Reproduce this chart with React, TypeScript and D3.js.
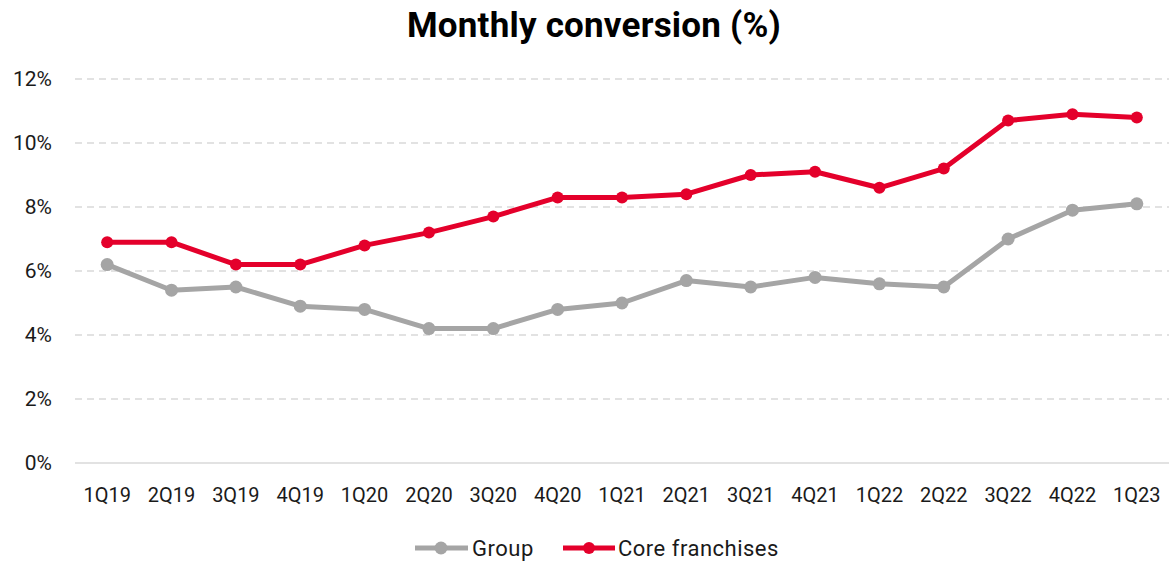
import React from "react";
import * as d3 from "d3";

const categories = ["1Q19","2Q19","3Q19","4Q19","1Q20","2Q20","3Q20","4Q20","1Q21","2Q21","3Q21","4Q21","1Q22","2Q22","3Q22","4Q22","1Q23"];
const groupValues = [6.2,5.4,5.5,4.9,4.8,4.2,4.2,4.8,5.0,5.7,5.5,5.8,5.6,5.5,7.0,7.9,8.1];
const coreValues = [6.9,6.9,6.2,6.2,6.8,7.2,7.7,8.3,8.3,8.4,9.0,9.1,8.6,9.2,10.7,10.9,10.8];
const yTicks = [0,2,4,6,8,10,12];
const seriesNames = ["Group","Core franchises"];

const W = 1171, H = 562;
const FONT = "Roboto, 'Noto Sans', sans-serif";

export default function App() {
  const x = d3.scaleBand<string>().domain(categories).range([75, 1169]);
  const y = d3.scaleLinear().domain([0, 12]).range([463, 79]);
  const cx = (c: string) => (x(c) as number) + x.bandwidth() / 2;
  const line = d3.line<[string, number]>().x(d => cx(d[0])).y(d => y(d[1]));
  const series = [
    { name: seriesNames[0], values: groupValues, color: "#A5A5A5", r: 6.5 },
    { name: seriesNames[1], values: coreValues, color: "#E4002B", r: 6 },
  ];
  return (
    <svg width={W} height={H} style={{ position: "absolute", left: 0, top: 0 }} fontFamily={FONT}>
      <text x={594} y={37} textAnchor="middle" fontSize={35} fontWeight="bold" fill="#000" letterSpacing={0.2}>Monthly conversion (%)</text>
      {yTicks.map(t => (
        <g key={t}>
          <line x1={75} x2={1169} y1={y(t)} y2={y(t)} stroke="#D9D9D9" strokeWidth={1.5} strokeDasharray={t === 0 ? undefined : "7,5"} />
          <text x={52} y={y(t)} dy="0.35em" textAnchor="end" fontSize={21} fill="#1a1a1a">{t}%</text>
        </g>
      ))}
      {categories.map(c => (
        <text key={c} x={cx(c)} y={502} textAnchor="middle" fontSize={20} fill="#1a1a1a">{c}</text>
      ))}
      {series.map(s => {
        const pts = categories.map((c, i) => [c, s.values[i]] as [string, number]);
        return (
          <g key={s.name}>
            <path d={line(pts) || ""} fill="none" stroke={s.color} strokeWidth={5} strokeLinejoin="round" />
            {pts.map(p => <circle key={p[0]} cx={cx(p[0])} cy={y(p[1])} r={s.r} fill={s.color} />)}
          </g>
        );
      })}
      <g>
        <line x1={415} x2={468} y1={548} y2={548} stroke="#A5A5A5" strokeWidth={5} />
        <circle cx={441} cy={548} r={6.5} fill="#A5A5A5" />
        <text x={472} y={548} dy="0.35em" fontSize={22} fill="#1a1a1a" letterSpacing={0.5}>Group</text>
        <line x1={563} x2={615} y1={548} y2={548} stroke="#E4002B" strokeWidth={5} />
        <circle cx={589} cy={548} r={6} fill="#E4002B" />
        <text x={618} y={548} dy="0.35em" fontSize={22} fill="#1a1a1a" letterSpacing={0.5}>Core franchises</text>
      </g>
    </svg>
  );
}
